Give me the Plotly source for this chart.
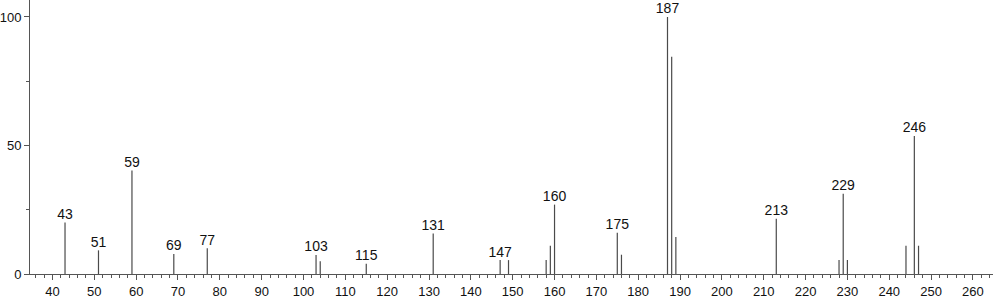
import plotly.graph_objects as go

mz = [43, 51, 59, 69, 77, 103, 104, 115, 131, 147, 149, 158, 159, 160,
      175, 176, 187, 188, 189, 213, 228, 229, 230, 244, 246, 247]
intensity = [20.0, 9.2, 40.3, 7.8, 10.0, 7.4, 5.0, 4.0, 15.8, 5.4, 5.4, 5.4, 11.0, 27.0,
             16.0, 7.5, 100.0, 84.5, 14.4, 21.5, 5.4, 31.2, 5.4, 11.0, 53.7, 11.0]
labeled = [43, 51, 59, 69, 77, 103, 115, 131, 147, 160, 175, 187, 213, 229, 246]

xs, ys = [], []
for m, v in zip(mz, intensity):
    xs += [m, m, None]
    ys += [0, v, None]

lab_y = [intensity[mz.index(m)] for m in labeled]

fig = go.Figure()
fig.add_trace(go.Scatter(x=xs, y=ys, mode="lines",
                         line=dict(color="#4a4a4a", width=1.2),
                         hoverinfo="skip", showlegend=False))
fig.add_trace(go.Scatter(x=labeled, y=lab_y, mode="text",
                         text=[str(m) for m in labeled],
                         textposition="top center",
                         textfont=dict(size=14, color="#111"),
                         showlegend=False))

fig.update_layout(
    width=996, height=299,
    margin=dict(l=30, r=3, t=0, b=25),
    paper_bgcolor="white", plot_bgcolor="white",
    font=dict(family="Liberation Sans, Arial, sans-serif", size=13, color="#111"),
    xaxis=dict(range=[34.63, 264.8], tickvals=list(range(40, 261, 10)),
               ticks="outside", ticklen=5, tickcolor="#555",
               showline=True, linecolor="#555", linewidth=1,
               showgrid=False, zeroline=False,
               minor=dict(dtick=2, tick0=0, ticks="outside", ticklen=3, tickcolor="#555"),
               tickfont=dict(size=13)),
    yaxis=dict(range=[0, 106.6], tickvals=[0, 50, 100],
               ticks="outside", ticklen=5, tickcolor="#555",
               showline=True, linecolor="#555", linewidth=1,
               showgrid=False, zeroline=False,
               minor=dict(tickvals=[25, 75], ticks="outside", ticklen=3, tickcolor="#555"),
               tickfont=dict(size=13)),
)

fig.write_html("out.html")
